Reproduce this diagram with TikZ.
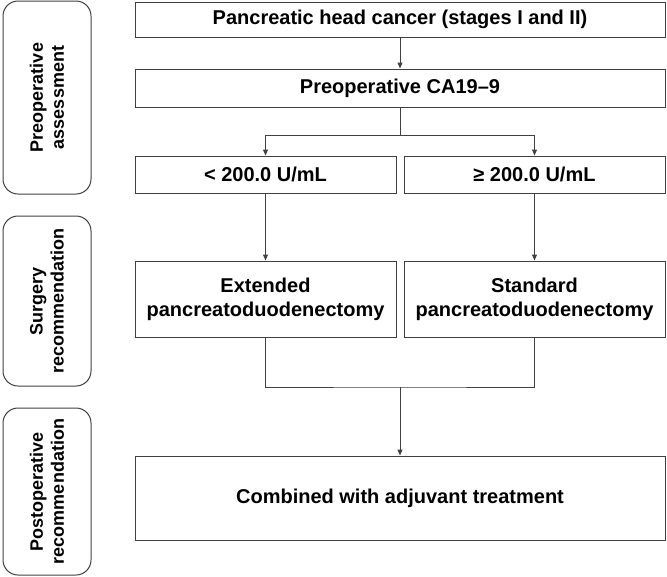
\documentclass[tikz,border=0pt]{standalone}
\usepackage{fontspec}
\setmainfont{Liberation Sans}
\usetikzlibrary{positioning, arrows.meta}
\tikzset{>={Triangle[length=6pt,width=5pt]}}
\tikzset{
    stagebox/.style = {rectangle, draw=black!75, line width=1pt, inner sep=0pt,
                        align=center, font=\fontsize{20}{24}\selectfont\bfseries},
    phasebox/.style = {rectangle, rounded corners=15pt, draw=black!75, line width=1pt,
                        inner sep=0pt, rotate=90, align=center,
                        font=\fontsize{18}{21}\selectfont\bfseries}
}
\begin{document}
\begin{tikzpicture}[x=1pt,y=-1pt]
			\useasboundingbox (0,0) rectangle (667,576);
			\tikzstyle{every path}=[draw=black!75, line width=1pt]
			% phases on the left
			\node (pre) [phasebox, minimum width=193, minimum height=88] at (47,97.5) {Preoperative\\assessment};
			\node (surg) [phasebox, minimum width=170, minimum height=88] at (47,301) {Surgery\\recommendation};
			\node (post) [phasebox, minimum width=167, minimum height=88] at (47,491.5) {Postoperative\\recommendation};
			% flow
			\node (head) [stagebox, minimum width=530, minimum height=35] at (400,19.5) {Pancreatic head cancer (stages I and II)};
			\node (ca) [stagebox, minimum width=530, minimum height=38] at (400,88) {Preoperative CA19--9};
			\node (low) [stagebox, minimum width=261, minimum height=37] at (265.5,174.5) {< 200.0 U/mL};
			\node (high) [stagebox, minimum width=261, minimum height=37] at (534.5,174.5) {≥ 200.0 U/mL};
			\node (ext) [stagebox, minimum width=261, minimum height=76] at (265.5,299) {Extended\\pancreatoduodenectomy};
			\node (std) [stagebox, minimum width=261, minimum height=76] at (534.5,299) {Standard\\pancreatoduodenectomy};
			\node (adj) [stagebox, minimum width=530, minimum height=84] at (400,498) {Combined with adjuvant treatment};
			\coordinate (split) at (400,135);
			\coordinate (merge) at (400,387);
			\draw [->] (head) -- (ca);
			\draw (ca) -- (split);
			\draw [->] (split) -| (low);
			\draw [->] (split) -| (high);
			\draw [->] (low) -- (ext);
			\draw [->] (high) -- (std);
			\draw (ext.south) |- (merge) -| (std.south);
			\draw [->] (merge) -- (adj);
		\end{tikzpicture}
\end{document}
